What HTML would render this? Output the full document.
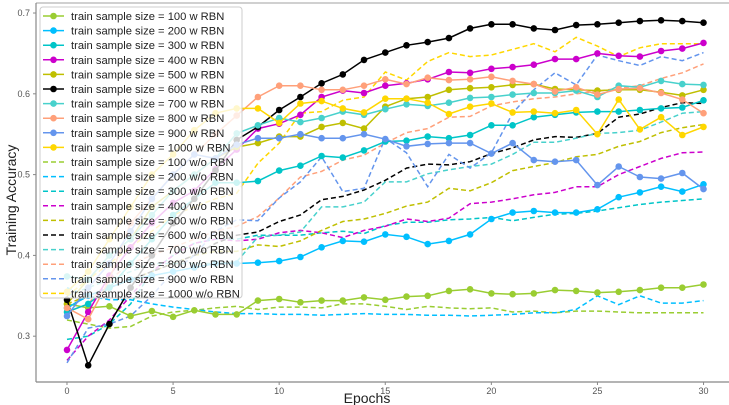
<!DOCTYPE html>
<html><head><meta charset="utf-8"><style>
html,body{margin:0;padding:0;background:#fff;}
svg{display:block;font-family:"Liberation Sans","DejaVu Sans",sans-serif;}
</style></head><body>
<svg id="chart" width="729" height="405" viewBox="0 0 729 405">
<line x1="36" y1="3" x2="729" y2="3" stroke="#d0d0d0" stroke-width="2"/>
<g id="grid"></g>
<g id="series"></g>
<g id="axes"></g>
<g id="legend"></g>
</svg>
<script>
const epochs = Array.from({length:31},(_,i)=>i);
const labels = ["100","200","300","400","500","600","700","800","900","1000"];
const colors = ["#9acd32","#00bfff","#00c5c8","#cc00cc","#bfbf00","#000000","#48d1cc","#ffa07a","#6495ed","#ffd700"];
const xTicks = [0,5,10,15,20,25,30];
const yTicks = [0.3,0.4,0.5,0.6,0.7];

const s100w  = [.340,.335,.337,.325,.331,.324,.332,.327,.327,.344,.346,.342,.344,.344,.348,.345,.349,.350,.356,.358,.353,.352,.353,.357,.356,.354,.355,.357,.360,.360,.364];
const s200w  = [.335,.350,.360,.370,.375,.380,.385,.390,.390,.391,.393,.398,.410,.418,.417,.426,.423,.414,.418,.426,.445,.453,.455,.453,.453,.457,.472,.478,.485,.479,.488];
const s300w  = [.330,.340,.360,.390,.420,.450,.470,.490,.490,.492,.505,.511,.523,.521,.530,.541,.542,.547,.545,.549,.561,.561,.571,.574,.577,.578,.578,.580,.582,.583,.592];
const s400w  = [.283,.330,.375,.410,.440,.465,.480,.507,.531,.557,.563,.574,.596,.604,.601,.610,.613,.618,.627,.626,.631,.633,.636,.643,.643,.650,.647,.646,.653,.656,.663];
const s500w  = [.340,.370,.400,.420,.460,.480,.500,.520,.534,.539,.547,.547,.559,.564,.557,.584,.594,.596,.605,.607,.608,.611,.612,.606,.605,.604,.605,.605,.602,.598,.605];
const s600w  = [.345,.264,.315,.360,.400,.440,.470,.505,.543,.559,.580,.596,.613,.624,.642,.651,.660,.664,.669,.681,.686,.686,.681,.679,.685,.686,.688,.690,.691,.690,.688];
const s700w  = [.374,.370,.400,.420,.450,.480,.500,.520,.551,.561,.570,.565,.570,.578,.574,.581,.587,.585,.589,.595,.596,.599,.601,.601,.604,.596,.610,.608,.616,.612,.611];
const s800w  = [.335,.321,.370,.440,.470,.500,.525,.550,.573,.596,.610,.610,.605,.605,.610,.618,.612,.620,.617,.618,.621,.616,.612,.603,.608,.599,.606,.607,.601,.593,.576];
const s900w  = [.325,.360,.390,.430,.470,.500,.525,.520,.537,.545,.545,.550,.545,.545,.550,.544,.535,.538,.539,.539,.526,.539,.518,.516,.518,.487,.510,.497,.495,.502,.482];
const s1000w = [.355,.380,.420,.460,.500,.525,.555,.576,.582,.582,.564,.588,.591,.582,.577,.594,.594,.589,.575,.584,.588,.577,.578,.576,.580,.550,.593,.556,.571,.549,.559];
const s100o  = [.320,.315,.310,.312,.325,.330,.332,.335,.337,.333,.336,.336,.335,.340,.340,.337,.333,.337,.335,.334,.335,.330,.331,.329,.331,.331,.330,.329,.329,.329,.329];
const s200o  = [.360,.350,.345,.345,.340,.336,.333,.330,.328,.328,.327,.327,.326,.327,.328,.327,.327,.326,.326,.325,.326,.327,.329,.329,.333,.350,.339,.350,.341,.341,.344];
const s300o  = [.296,.300,.315,.340,.380,.400,.415,.420,.420,.425,.425,.425,.428,.430,.427,.437,.441,.441,.444,.445,.447,.443,.447,.451,.452,.455,.459,.463,.466,.468,.470];
const s400o  = [.270,.300,.320,.350,.380,.400,.415,.420,.418,.420,.428,.431,.428,.422,.431,.436,.445,.442,.446,.464,.466,.470,.475,.478,.485,.485,.500,.510,.520,.527,.528];
const s500o  = [.340,.350,.360,.370,.380,.390,.400,.405,.405,.413,.411,.418,.431,.442,.445,.452,.461,.466,.483,.480,.490,.505,.510,.515,.522,.525,.535,.541,.552,.558,.562];
const s600o  = [.335,.350,.360,.370,.380,.390,.400,.415,.425,.429,.442,.450,.469,.473,.481,.493,.508,.513,.512,.516,.526,.533,.543,.547,.546,.551,.571,.575,.583,.589,.588];
const s700o  = [.350,.360,.370,.380,.390,.390,.390,.390,.392,.423,.425,.429,.460,.460,.466,.491,.491,.501,.506,.510,.513,.525,.540,.540,.545,.551,.552,.555,.565,.576,.578];
const s800o  = [.330,.340,.370,.390,.400,.410,.420,.430,.436,.448,.471,.497,.504,.518,.524,.539,.552,.557,.571,.572,.585,.590,.594,.596,.600,.603,.607,.610,.619,.626,.637];
const s900o  = [.267,.310,.315,.325,.350,.380,.400,.430,.444,.443,.471,.491,.522,.479,.483,.545,.527,.485,.525,.508,.527,.576,.605,.626,.611,.648,.641,.635,.646,.641,.651];
const s1000o = [.350,.370,.390,.410,.430,.450,.460,.470,.477,.514,.539,.576,.578,.592,.596,.627,.617,.640,.651,.646,.648,.655,.662,.652,.670,.659,.646,.657,.662,.662,.662];

const solid = [s100w,s200w,s300w,s400w,s500w,s600w,s700w,s800w,s900w,s1000w];
const dashed = [s100o,s200o,s300o,s400o,s500o,s600o,s700o,s800o,s900o,s1000o];

const NS="http://www.w3.org/2000/svg";
const X0=36, X1=729, Y0=382, Y1=3;
const xMin=-1.46, xMax=31.2, yMin=0.2433, yMax=0.7124;
const xs = v => X0 + (v - xMin)/(xMax - xMin)*(X1 - X0);
const ys = v => Y0 - (v - yMin)/(yMax - yMin)*(Y0 - Y1);
function mk(tag, attrs, parent){const e=document.createElementNS(NS,tag);for(const k in attrs)e.setAttribute(k,attrs[k]);parent.appendChild(e);return e;}

const gS=document.getElementById('series');
function drawSeries(vals,color,isDash,idx){
  const g=mk('g',{},gS);
  
  
  const d=vals.map((v,i)=>(i?'L':'M')+xs(epochs[i]).toFixed(1)+' '+ys(v).toFixed(1)).join(' ');
  const p=mk('path',{d:d,fill:'none',stroke:color,'stroke-width':1.5,'stroke-dasharray':isDash?'5,3':'none'},g);
  
  
  if(!isDash){
    vals.forEach((v,i)=>{
      const c=mk('circle',{cx:xs(epochs[i]).toFixed(1),cy:ys(v).toFixed(1),r:3.3,fill:color},g);
      
      
    });
  }
}
dashed.forEach((s,i)=>drawSeries(s,colors[i],true,i));
solid.forEach((s,i)=>drawSeries(s,colors[i],false,i));

const gA=document.getElementById('axes');
const la=mk('line',{x1:X0,y1:Y1,x2:X0,y2:Y0,stroke:'#888','stroke-width':1.2},gA);


const lb=mk('line',{x1:X0,y1:Y0,x2:X1,y2:Y0,stroke:'#888','stroke-width':1.2},gA);


yTicks.forEach(t=>{
  const y=ys(t);
  mk('line',{x1:X0-3,y1:y,x2:X0,y2:y,stroke:'#888'},gA);
  const tx=mk('text',{x:X0-6,y:y+3,'font-size':9,fill:'#555','text-anchor':'end'},gA);
  tx.textContent=t.toFixed(1);
  
  
});
xTicks.forEach(t=>{
  const x=xs(t);
  mk('line',{x1:x,y1:Y0,x2:x,y2:Y0+3,stroke:'#888'},gA);
  const tx=mk('text',{x:x,y:Y0+12,'font-size':9,fill:'#555','text-anchor':'middle'},gA);
  tx.textContent=String(t);
  
  
});
const xt=mk('text',{x:367,y:403,'font-size':14,fill:'#222','text-anchor':'middle'},gA);
xt.textContent='Epochs';


const yt=mk('text',{x:16,y:200,'font-size':14,fill:'#222','text-anchor':'middle',transform:'rotate(-90 16 200)'},gA);
yt.textContent='Training Accuracy';



const gL=document.getElementById('legend');


mk('rect',{x:40,y:7,width:202,height:291,rx:3,fill:'#fff','fill-opacity':0.8,stroke:'#ccc','stroke-width':1},gL);
const entries=[];
labels.forEach((l,i)=>entries.push({t:'train sample size = '+l+' w RBN',c:colors[i],d:false}));
labels.forEach((l,i)=>entries.push({t:'train sample size = '+l+' w/o RBN',c:colors[i],d:true}));
entries.forEach((e,i)=>{
  const y=16+i*14.6;
  const g=mk('g',{},gL);
  
  
  mk('line',{x1:43,y1:y,x2:64,y2:y,stroke:e.c,'stroke-width':1.5,'stroke-dasharray':e.d?'5,3':'none'},g);
  if(!e.d) mk('circle',{cx:53.5,cy:y,r:3.3,fill:e.c},g);
  const tx=mk('text',{x:71,y:y+4,'font-size':11.2,fill:'#222'},g);
  tx.textContent=e.t;
});
</script>
</body></html>
